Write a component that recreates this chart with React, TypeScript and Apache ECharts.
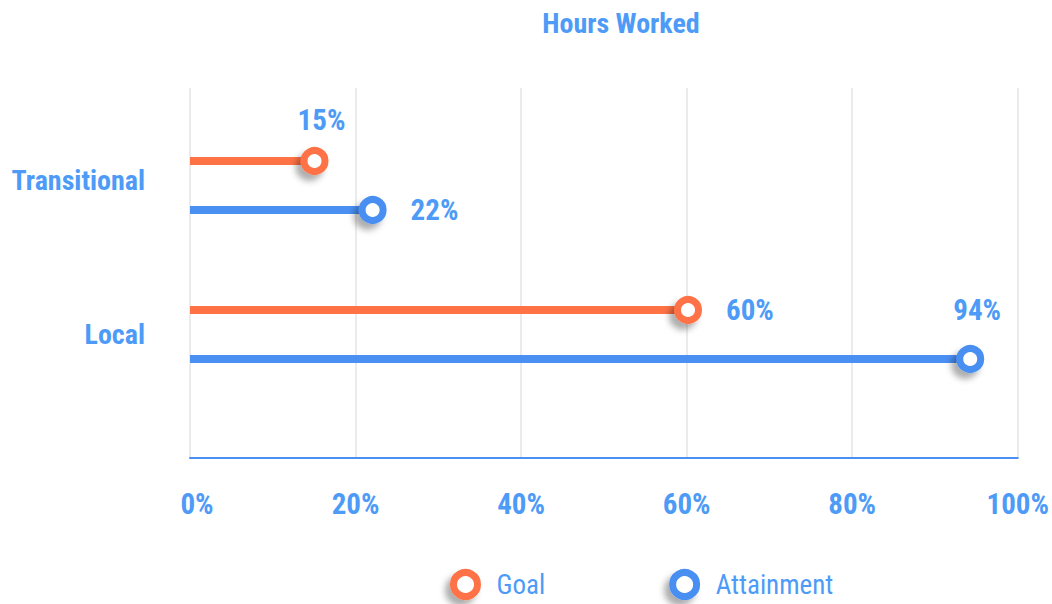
import React, { useEffect, useRef } from "react";
import * as echarts from "echarts";

const categories = ["Transitional", "Local"];
const goalValues = [15, 60];
const attainmentValues = [22, 94];
const goalLabelPos = ["top", "right"];
const attainmentLabelPos = ["right", "top"];
const xTicks = { min: 0, max: 100, interval: 20 };

const ORANGE = "#FF7246";
const BLUE = "#4A8FF2";
const TEXT = "#4D9BF7";
const FONT = "'Roboto Condensed', 'Liberation Sans Narrow', Roboto, sans-serif";

export default function App() {
  const ref = useRef<HTMLDivElement>(null);
  useEffect(() => {
    const chart = echarts.init(ref.current!, null, { renderer: "svg" });
    const shadow = {
      shadowColor: "rgba(0,0,0,0.32)",
      shadowBlur: 6,
      shadowOffsetX: -5,
      shadowOffsetY: 6,
    };
    const labelStyle = (pos: string, i: number) => ({
      show: true,
      position: pos,
      distance: pos === "top" ? (i === 0 ? 13 : 21) : 24,
      offset: pos === "top" ? [7, 0] : [0, 0],
      color: TEXT,
      fontFamily: FONT,
      fontWeight: "bold",
      fontSize: 29,
      formatter: (p: any) => p.value[0] + "%",
    });
    const axisText = { color: TEXT, fontFamily: FONT, fontWeight: "bold", fontSize: 29 };
    chart.setOption({
      animation: false,
      textStyle: { fontFamily: FONT },
      title: {
        text: "Hours Worked",
        left: 616,
        top: 4,
        textAlign: "center",
        textStyle: { color: TEXT, fontFamily: FONT, fontWeight: "bold", fontSize: 28 },
      },
      legend: {
        top: 569,
        left: 450,
        padding: 0,
        itemGap: 124,
        itemWidth: 24,
        itemHeight: 24,
        data: ["Goal", "Attainment"],
        itemStyle: { borderWidth: 7, ...shadow },
        textStyle: { color: TEXT, fontFamily: FONT, fontSize: 27, lineHeight: 26, padding: [0, 0, 0, 14] },
      },
      grid: [
        { left: 190, right: 32, top: 88, bottom: 146 },
        { left: 190, right: 32, top: 111, bottom: 195 },
      ],
      xAxis: [
        {
          gridIndex: 0,
          type: "value",
          ...xTicks,
          axisLine: { show: true, lineStyle: { color: BLUE, width: 2 } },
          axisTick: { show: false },
          axisLabel: {
            margin: 31,
            ...axisText,
            formatter: (v: number) => (v === xTicks.min ? `{z|${v}%}` : `{n|${v}%}`),
            rich: {
              z: { ...axisText, padding: [0, 0, 0, 14] },
              n: { ...axisText },
            },
          },
          splitLine: { show: true, lineStyle: { color: "#EBEBEB", width: 2 } },
        },
        {
          gridIndex: 1,
          type: "value",
          ...xTicks,
          show: false,
        },
      ],
      yAxis: [
        { gridIndex: 0, type: "value", show: false, splitLine: { show: false } },
        {
          gridIndex: 1,
          type: "category",
          data: categories,
          inverse: true,
          axisLine: { show: false },
          axisTick: { show: false },
          splitLine: { show: false },
          axisLabel: {
            margin: 45,
            color: TEXT,
            fontFamily: FONT,
            fontWeight: "bold",
            fontSize: 28,
            formatter: (v: string, i: number) => (i === 0 ? `{up|${v}}` : `{n|${v}}`),
            rich: {
              up: { color: TEXT, fontFamily: FONT, fontWeight: "bold", fontSize: 28, padding: [0, 0, 10, 0] },
              n: { color: TEXT, fontFamily: FONT, fontWeight: "bold", fontSize: 28 },
            },
          },
        },
      ],
      series: [
        {
          name: "Goal",
          type: "scatter",
          xAxisIndex: 1,
          yAxisIndex: 1,
          symbol: "circle",
          symbolSize: 21,
          symbolOffset: [0, -24.5],
          z: 5,
          itemStyle: { opacity: 1, color: "#fff", borderColor: ORANGE, borderWidth: 7, ...shadow },
          data: goalValues.map((v, i) => ({ value: [v, categories[i]], label: labelStyle(goalLabelPos[i], i) })),
        },
        {
          name: "Attainment",
          type: "scatter",
          xAxisIndex: 1,
          yAxisIndex: 1,
          symbol: "circle",
          symbolSize: 21,
          symbolOffset: [0, 24.5],
          z: 5,
          itemStyle: { opacity: 1, color: "#fff", borderColor: BLUE, borderWidth: 7, ...shadow },
          data: attainmentValues.map((v, i) => ({ value: [v, categories[i]], label: labelStyle(attainmentLabelPos[i], i) })),
        },
        {
          name: "Goal",
          type: "bar",
          xAxisIndex: 1,
          yAxisIndex: 1,
          barWidth: 8,
          barGap: "512%",
          itemStyle: { color: ORANGE },
          data: goalValues,
        },
        {
          name: "Attainment",
          type: "bar",
          xAxisIndex: 1,
          yAxisIndex: 1,
          barWidth: 8,
          barGap: "512%",
          itemStyle: { color: BLUE },
          data: attainmentValues,
        },
      ],
    });
    return () => chart.dispose();
  }, []);
  return <div ref={ref} style={{ width: 1052, height: 604, position: "absolute", left: 0, top: 0 }} />;
}
